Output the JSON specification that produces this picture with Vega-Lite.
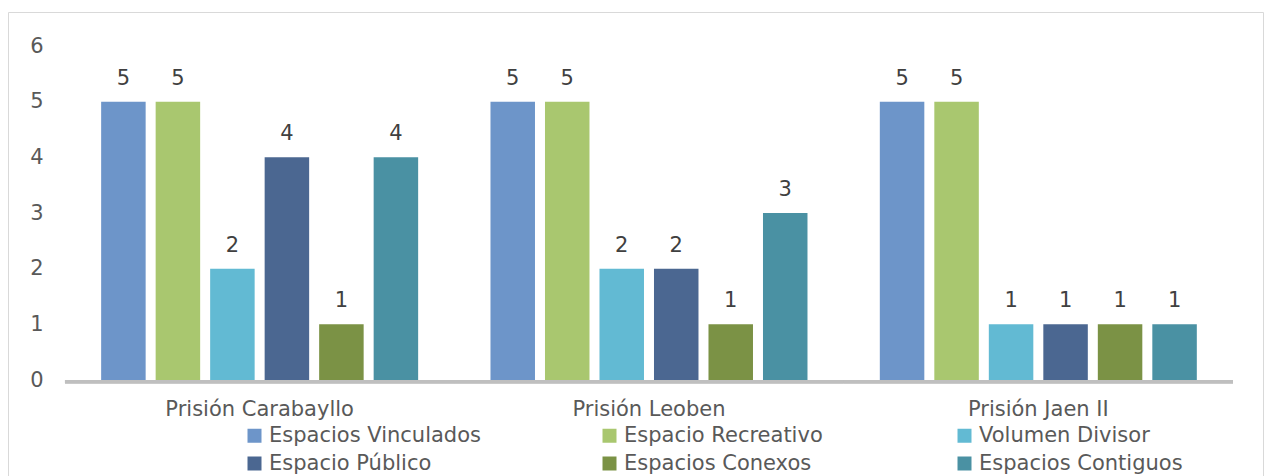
{
  "$schema": "https://vega.github.io/schema/vega-lite/v6.json",
  "width": 1255,
  "height": 464,
  "autosize": "none",
  "padding": {"left": 8, "top": 12, "right": 3, "bottom": 0},
  "background": "white",
  "config": {
    "font": "DejaVu Sans",
    "view": {"stroke": "#d9d9d9", "strokeWidth": 1}
  },
  "data": {
    "values": [
      {"prision": "Prisión Carabayllo", "espacio": "Espacios Vinculados", "valor": 5},
      {"prision": "Prisión Carabayllo", "espacio": "Espacio Recreativo", "valor": 5},
      {"prision": "Prisión Carabayllo", "espacio": "Volumen Divisor", "valor": 2},
      {"prision": "Prisión Carabayllo", "espacio": "Espacio Público", "valor": 4},
      {"prision": "Prisión Carabayllo", "espacio": "Espacios Conexos", "valor": 1},
      {"prision": "Prisión Carabayllo", "espacio": "Espacios Contiguos", "valor": 4},
      {"prision": "Prisión Leoben", "espacio": "Espacios Vinculados", "valor": 5},
      {"prision": "Prisión Leoben", "espacio": "Espacio Recreativo", "valor": 5},
      {"prision": "Prisión Leoben", "espacio": "Volumen Divisor", "valor": 2},
      {"prision": "Prisión Leoben", "espacio": "Espacio Público", "valor": 2},
      {"prision": "Prisión Leoben", "espacio": "Espacios Conexos", "valor": 1},
      {"prision": "Prisión Leoben", "espacio": "Espacios Contiguos", "valor": 3},
      {"prision": "Prisión Jaen II", "espacio": "Espacios Vinculados", "valor": 5},
      {"prision": "Prisión Jaen II", "espacio": "Espacio Recreativo", "valor": 5},
      {"prision": "Prisión Jaen II", "espacio": "Volumen Divisor", "valor": 1},
      {"prision": "Prisión Jaen II", "espacio": "Espacio Público", "valor": 1},
      {"prision": "Prisión Jaen II", "espacio": "Espacios Conexos", "valor": 1},
      {"prision": "Prisión Jaen II", "espacio": "Espacios Contiguos", "valor": 1}
    ]
  },
  "encoding": {
    "x": {
      "field": "prision",
      "type": "nominal",
      "sort": ["Prisión Carabayllo", "Prisión Leoben", "Prisión Jaen II"],
      "scale": {"paddingInner": 0, "paddingOuter": 0.11173, "align": 0.655},
      "axis": {
        "title": null,
        "orient": "bottom",
        "offset": -96,
        "domain": false,
        "ticks": false,
        "labelAngle": 0,
        "labelFontSize": 21,
        "labelColor": "#595959",
        "labelPadding": 18,
        "labelBaseline": "top",
        "labelLimit": 400
      }
    }
  },
  "layer": [
    {
      "mark": {"type": "bar", "color": "#bfbfbf"},
      "encoding": {
        "y": {"datum": 0, "type": "quantitative"},
        "y2": {"datum": -0.06}
      }
    },
    {
      "mark": {"type": "bar"},
      "encoding": {
        "xOffset": {
          "field": "espacio",
          "type": "nominal",
          "sort": ["Espacios Vinculados", "Espacio Recreativo", "Volumen Divisor", "Espacio Público", "Espacios Conexos", "Espacios Contiguos"],
          "scale": {"paddingInner": 0.1835, "paddingOuter": 0.6636}
        },
        "y": {
          "field": "valor",
          "type": "quantitative",
          "scale": {"domain": [-1.7246, 6.611], "nice": false, "zero": false},
          "axis": {
            "title": null,
            "values": [0, 1, 2, 3, 4, 5, 6],
            "format": "d",
            "grid": false,
            "domain": false,
            "ticks": false,
            "offset": -35,
            "labelPadding": 0,
            "labelFontSize": 21,
            "labelColor": "#595959"
          }
        },
        "color": {
          "field": "espacio",
          "type": "nominal",
          "sort": ["Espacios Vinculados", "Espacio Recreativo", "Volumen Divisor", "Espacio Público", "Espacios Conexos", "Espacios Contiguos"],
          "scale": {
            "domain": ["Espacios Vinculados", "Espacio Recreativo", "Volumen Divisor", "Espacio Público", "Espacios Conexos", "Espacios Contiguos"],
            "range": ["#6d95c9", "#a9c76f", "#62bad3", "#4b6791", "#7b9245", "#4a91a3"]
          },
          "legend": {
            "title": null,
            "orient": "none",
            "legendX": 236,
            "legendY": 413,
            "direction": "horizontal",
            "columns": 3,
            "gridAlign": "all",
            "columnPadding": 118,
            "rowPadding": 6,
            "padding": 0,
            "symbolType": "square",
            "symbolSize": 196,
            "symbolStrokeWidth": 0,
            "labelOffset": 4,
            "labelFontSize": 21,
            "labelColor": "#595959",
            "labelLimit": 400
          }
        }
      }
    },
    {
      "mark": {"type": "text", "baseline": "alphabetic", "dy": -17, "fontSize": 21, "color": "#404040"},
      "encoding": {
        "xOffset": {
          "field": "espacio",
          "type": "nominal",
          "sort": ["Espacios Vinculados", "Espacio Recreativo", "Volumen Divisor", "Espacio Público", "Espacios Conexos", "Espacios Contiguos"]
        },
        "y": {"field": "valor", "type": "quantitative"},
        "text": {"field": "valor", "type": "quantitative"}
      }
    }
  ]
}
